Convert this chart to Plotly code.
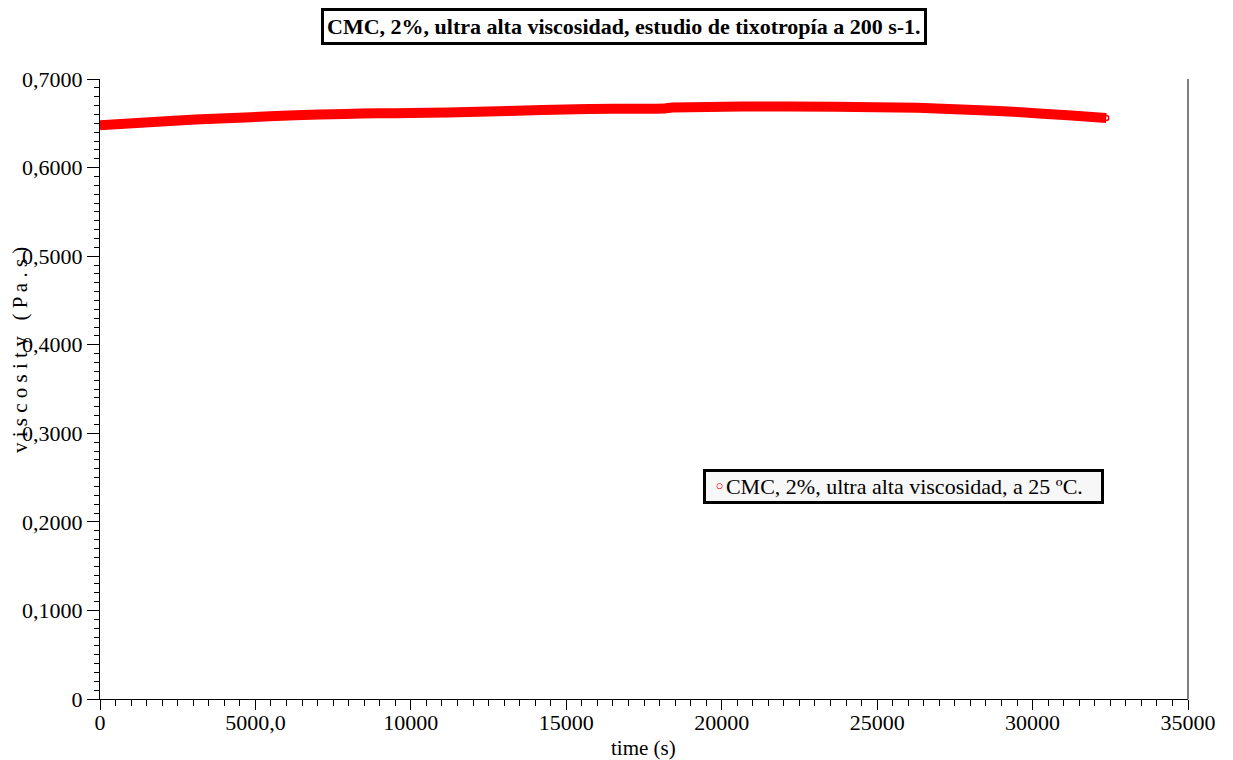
import plotly.graph_objects as go

# Viscosity of CMC 2% (ultra high viscosity) at 200 s-1, 25 ºC
time_s = [0, 1450, 3060, 4660, 6270, 7880, 8940, 9490, 10550, 11840,
          13120, 14210, 15700, 18170, 18400, 20650, 23640, 26310, 27920,
          29530, 31140, 32370]
viscosity = [0.6478, 0.6508, 0.6542, 0.6566, 0.6592, 0.6604, 0.6614, 0.6612,
             0.6618, 0.6628, 0.6640, 0.6650, 0.6661, 0.6668, 0.6677, 0.6690,
             0.6686, 0.6674, 0.6653, 0.6627, 0.6590, 0.6560]

x_ticks = [0, 5000, 10000, 15000, 20000, 25000, 30000, 35000]
x_ticktext = ["0", "5000,0", "10000", "15000", "20000", "25000", "30000", "35000"]
y_ticks = [0, 0.1, 0.2, 0.3, 0.4, 0.5, 0.6, 0.7]
y_ticktext = ["0", "0,1000", "0,2000", "0,3000", "0,4000", "0,5000", "0,6000", "0,7000"]

series_name = "CMC, 2%, ultra alta viscosidad, a 25 ºC."
title_text = "CMC, 2%, ultra alta viscosidad, estudio de tixotropía a 200 s-1."

serif = "Liberation Serif, Times New Roman, serif"
red = "#ff0000"

fig = go.Figure()
# dense measurement band
fig.add_trace(go.Scatter(
    x=time_s, y=viscosity, mode="lines",
    line=dict(color=red, width=10, shape="spline", smoothing=0.4),
    showlegend=False, hoverinfo="skip",
))
# measured points (open circles)
fig.add_trace(go.Scatter(
    x=time_s, y=viscosity, mode="markers", name=series_name,
    marker=dict(symbol="circle-open", color=red, size=5, line=dict(width=1.5, color=red)),
    showlegend=False,
))

axis_common = dict(
    showgrid=False, zeroline=False, showline=True, linecolor="black", linewidth=1,
    ticks="outside", tickcolor="black", tickwidth=1,
    tickfont=dict(family=serif, size=22, color="black"),
)

fig.update_xaxes(
    range=[0, 35000], tickmode="array", tickvals=x_ticks, ticktext=x_ticktext,
    ticklen=10, ticklabelstandoff=-6,
    minor=dict(ticks="outside", ticklen=6, dtick=500, tickcolor="black", tickwidth=1, showgrid=False),
    **axis_common,
)
fig.update_yaxes(
    range=[0, 0.7], tickmode="array", tickvals=y_ticks, ticktext=y_ticktext,
    ticklen=12,
    minor=dict(ticks="outside", ticklen=5, dtick=0.01, tickcolor="black", tickwidth=1, showgrid=False),
    **axis_common,
)

# right frame line
fig.add_shape(type="line", xref="paper", yref="paper", x0=1, x1=1, y0=0, y1=1,
              line=dict(color="black", width=1))

# title box
fig.add_annotation(
    text="<b>" + title_text + "</b>", xref="paper", yref="paper",
    x=(624 - 100) / 1088, y=1 + (79 - 27) / 620, xanchor="center", yanchor="middle",
    showarrow=False, font=dict(family=serif, size=22, color="black"),
    bordercolor="black", borderwidth=3, borderpad=3, bgcolor="white",
)

# legend box with open-circle key
fig.add_annotation(
    text='&nbsp;<span style="color:#ff0000;font-family:DejaVu Sans;font-size:21px">◦</span>'
         + series_name + '&nbsp;&nbsp;&nbsp;',
    xref="paper", yref="paper",
    x=(703 - 100) / 1088, y=(699 - 486.5) / 620, xanchor="left", yanchor="middle",
    showarrow=False, font=dict(family=serif, size=22, color="black"),
    bordercolor="black", borderwidth=3, borderpad=2, bgcolor="#f7f7f7",
)

# axis titles
fig.add_annotation(
    text="v i s c o s i t y   ( P a . s )", xref="paper", yref="paper",
    x=(20 - 100) / 1088, y=(699 - 350) / 620, xanchor="center", yanchor="middle",
    textangle=-90, showarrow=False, font=dict(family=serif, size=21, color="black"),
)
fig.add_annotation(
    text="time (s)", xref="paper", yref="paper",
    x=(643 - 100) / 1088, y=-(748 - 699) / 620, xanchor="center", yanchor="middle",
    showarrow=False, font=dict(family=serif, size=21, color="black"),
)

fig.update_layout(
    width=1233, height=760,
    margin=dict(l=100, r=45, t=79, b=61),
    paper_bgcolor="white", plot_bgcolor="white",
    font=dict(family=serif, color="black"),
    showlegend=False,
)

fig.write_html("out.html")
